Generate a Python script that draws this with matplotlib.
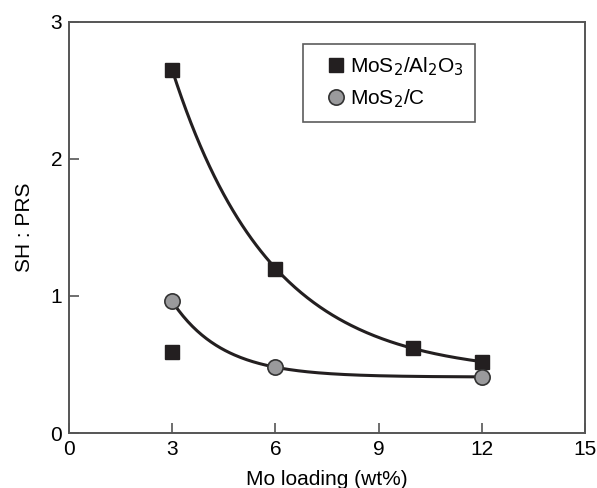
import numpy as np
import matplotlib.pyplot as plt

plt.rcParams['font.family'] = ['Liberation Sans', 'DejaVu Sans']

al_x = [3, 6, 10, 12]
al_y = [2.65, 1.20, 0.62, 0.52]
al_extra_x = [3]
al_extra_y = [0.59]
c_x = [3, 6, 12]
c_y = [0.96, 0.48, 0.41]

x_ticks = [0, 3, 6, 9, 12, 15]
y_ticks = [0, 1, 2, 3]

dark = '#231f20'
grey = '#9a9a9c'
spine = '#555555'


def fit_decay(x, y):
    # y = a*exp(-b*(x - x0)) + c, grid over b, least squares for a and c
    x = np.asarray(x, float)
    y = np.asarray(y, float)
    best = None
    for b in np.linspace(0.05, 3, 600):
        A = np.column_stack([np.exp(-b * (x - x[0])), np.ones_like(x)])
        coef, res, _, _ = np.linalg.lstsq(A, y, rcond=None)
        err = np.sum((A @ coef - y) ** 2)
        if best is None or err < best[0]:
            best = (err, b, coef)
    _, b, (a, c) = best
    xs = np.linspace(x[0], x[-1], 200)
    return xs, a * np.exp(-b * (xs - x[0])) + c


fig = plt.figure(figsize=(5.97, 4.88), dpi=100)
ax = fig.add_axes([0.1156, 0.1127, 0.8644, 0.8423])

xs, ys = fit_decay(al_x, al_y)
ax.plot(xs, ys, color=dark, lw=2.2, zorder=2)
xs, ys = fit_decay(c_x, c_y)
ax.plot(xs, ys, color=dark, lw=2.2, zorder=2)

ax.plot(al_x + al_extra_x, al_y + al_extra_y, 's', color=dark, ms=9.5,
        mec=dark, ls='none', zorder=3, label='MoS$_2$/Al$_2$O$_3$')
ax.plot(c_x, c_y, 'o', mfc=grey, mec='#333333', mew=1.2, ms=11,
        ls='none', zorder=3, label='MoS$_2$/C')

ax.set_xlim(0, 15)
ax.set_ylim(0, 3)
ax.set_xticks(x_ticks)
ax.set_yticks(y_ticks)
ax.tick_params(direction='in', length=7, width=1.2, color=spine,
               labelsize=15, pad=5)
for s in ax.spines.values():
    s.set_color(spine)
    s.set_linewidth(1.4)

ax.set_xlabel('Mo loading (wt%)', fontsize=15, labelpad=8)
ax.set_ylabel('SH : PRS', fontsize=15, labelpad=12)

leg = ax.legend(loc='upper left', bbox_to_anchor=(0.453, 0.946),
                borderaxespad=0, frameon=True, fancybox=False,
                fontsize=15, handletextpad=-0.4, borderpad=0.55,
                labelspacing=0.45, handlelength=2.1)
leg.get_frame().set_edgecolor('#333333')
leg.get_frame().set_linewidth(1.2)

fig.savefig('out.png', dpi=100)
